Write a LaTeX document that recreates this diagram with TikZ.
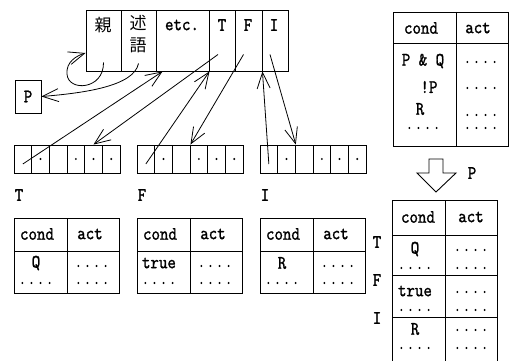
\documentclass[tikz,border=0pt]{standalone}
\usepackage{fontspec}
\setmonofont[FakeStretch=0.85,FakeBold=1.2]{lmmono10-regular.otf}
\newfontfamily\kanji{Noto Sans CJK JP}
\usetikzlibrary{arrows.meta}

\tikzset{
  box/.style={draw, line width=0.9pt, inner sep=0pt, minimum height=61pt},
  acell/.style={draw, line width=0.9pt, inner sep=0pt, minimum width=17.67pt, minimum height=28pt},
  lbl/.style={inner sep=0pt, font=\ttfamily\fontsize{19}{19}\selectfont},
  dots/.style={inner sep=0pt, font=\ttfamily\fontsize{13}{13}\selectfont\addfontfeature{FakeBold=3.5,LetterSpace=25}},
  jp/.style={inner sep=0pt, align=center, font=\kanji\fontsize{17}{22}\selectfont},
  tbl/.style={line width=0.9pt},
  ptr/.style={line width=0.8pt, -{Straight Barb[length=16pt,width=13pt]}},
}

\begin{document}
\begin{tikzpicture}[x=1pt,y=-1pt]
\useasboundingbox (0,0) rectangle (512,361);

% the record
\node[box, minimum width=35pt] (oya) at (103.5,40.5) {};
\node[box, minimum width=35pt] (jutsugo) at (138.5,40.5) {};
\node[box, minimum width=53pt] (etc) at (182.5,40.5) {};
\node[box, minimum width=26pt] (rt) at (222,40.5) {};
\node[box, minimum width=27pt] (rf) at (248.5,40.5) {};
\node[box, minimum width=26pt] (ri) at (275,40.5) {};
\node[jp] (oyatxt) at (103,25) {親};
\node[jp] (jutsugotxt) at (138,34) {述\\語};
\node[lbl] (etctxt) at (182,25) {etc.};
\node[lbl] (rttxt) at (222,25) {T};
\node[lbl] (rftxt) at (248,25) {F};
\node[lbl] (ritxt) at (274,25) {I};

\node[draw, line width=0.9pt, minimum width=26pt, minimum height=33pt, lbl] (pbox) at (28,96.5) {P};

% the three arrays
\foreach \arr/\x/\t in {t/14/T, f/137/F, i/260/I}{
  \foreach \k in {1,...,6}
    \node[acell] (\arr a\k) at (\x+\k*17.67-8.83,159) {};
  \foreach \k in {2,4,5,6}
    \fill (\arr a\k) circle (1.1pt);
  \node[lbl] (\arr lbl) at (\x+5,195) {\t};
}

% pointers out of the T, F, I slots
\draw[ptr] ([xshift=-4pt,yshift=-14pt]rt.center) -- (ta5.north);
\draw[ptr] ([xshift=-5pt,yshift=-14pt]rf.center) -- (fa3.north east);
\draw[ptr] ([xshift=-5pt,yshift=-14pt]ri.center) -- (ia2.north east);
% links back from the first cells
\draw[ptr] ([yshift=-5pt]ta1.center) -- ([xshift=7pt]etc.south west);
\draw[ptr] ([yshift=-5pt]fa1.center) -- (etc.south east);
\draw[ptr] ([yshift=-5pt]ia1.center) -- (rf.south east);

\draw[ptr] ([yshift=-22pt]oya.center) .. controls (104,90) and (68,92) .. (67,74)
  .. controls (66,62) and (76,56) .. ([yshift=-12.5pt]oya.west);
\draw[ptr] ([yshift=-23pt]jutsugo.center) .. controls (134,86) and (85,93) .. (pbox.east);

% cond/act tables under the arrays
\foreach \x/\c/\n in {14/Q/tq, 137/true/tt, 260/R/tr}{
  \draw[tbl] (\x,218) rectangle (\x+105,293);
  \draw[tbl] (\x,251) -- (\x+105,251) (\x+53,218) -- (\x+53,293);
  \node[lbl] (\n cond) at (\x+23,234) {cond};
  \node[lbl] (\n act) at (\x+76,234) {act};
  \node[lbl] (\n c) at (\x+22,263) {\c};
  \node[dots] (\n cd) at (\x+22,283) {....};
  \node[dots] (\n a1) at (\x+78,266) {....};
  \node[dots] (\n a2) at (\x+78,283) {....};
}

% table of P
\draw[tbl] (393,12) rectangle (508,146);
\draw[tbl] (393,43) -- (508,43) (456,12) -- (456,146);
\node[lbl] (pcond) at (421,28) {cond};
\node[lbl] (pact) at (478,28) {act};
\node[lbl] (pc1) at (423,61) {P \& Q};
\node[lbl] (pc2) at (429,87) {!P};
\node[lbl] (pc3) at (420,109) {R};
\node[dots] (pc4) at (423,128) {....};
\foreach \y [count=\i] in {62,88,115,128}
  \node[dots] (pa\i) at (481,\y) {....};

% hollow arrow
\draw[line width=0.9pt] (429,159) -- (443,159) -- (443,173) -- (456,173) -- (436,192)
  -- (417,173) -- (429,173) -- cycle;
\node[lbl] (plbl) at (472,173) {P};

% merged table
\draw[tbl] (392,361) -- (392,200) -- (497,200) -- (497,361);
\draw[tbl] (392,235) -- (497,235) (392,275) -- (497,275) (392,317) -- (497,317);
\draw[tbl] (445,200) -- (445,361);
\node[lbl] (mcond) at (418,217) {cond};
\node[lbl] (mact) at (471,217) {act};
\foreach \c/\y/\n in {Q/249/1, true/291/2, R/329/3}{
  \node[lbl] (mc\n) at (415,\y) {\c};
  \node[dots] (mcd\n) at (415,\y+19) {....};
  \node[dots] (ma\n) at (471,\y+1) {....};
  \node[dots] (mad\n) at (471,\y+19) {....};
}
\node[lbl] (mt) at (377,242) {T};
\node[lbl] (mf) at (377,280) {F};
\node[lbl] (mi) at (377,318) {I};
\end{tikzpicture}
\end{document}
